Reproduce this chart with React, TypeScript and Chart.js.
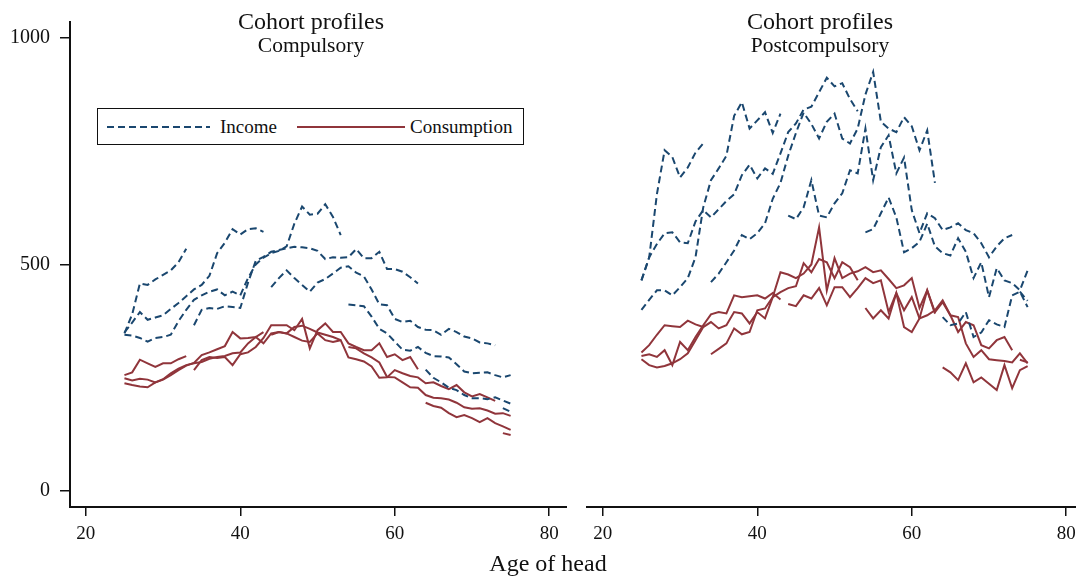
import React, { useEffect, useRef } from 'react';
import Chart from 'chart.js/auto';

// ---------- data ----------
const AGE_TICKS = [20, 40, 60, 80];
const VALUE_TICKS = [0, 500, 1000];
const COHORT_START_AGES = [25, 25, 25, 34, 44, 54, 64, 74];

// Compulsory – income (one array per cohort, starting at COHORT_START_AGES)
const COMP_INC_1 = [348, 390, 458, 455, 467, 477, 487, 505, 535];
const COMP_INC_2 = [350, 372, 395, 378, 383, 388, 402, 415, 430, 445, 455, 475, 525, 548, 578, 566, 578, 580, 572];
const COMP_INC_3 = [345, 343, 338, 330, 338, 340, 345, 375, 400, 422, 432, 440, 445, 432, 440, 432, 470, 500, 515, 525, 530, 540, 590, 628, 610, 612, 633, 605, 565];
const COMP_INC_4 = [366, 400, 404, 402, 408, 406, 404, 460, 508, 517, 528, 532, 536, 539, 538, 536, 530, 512, 516, 515, 516, 534, 514, 514, 528, 490, 490, 484, 472, 458];
const COMP_INC_5 = [450, 470, 487, 470, 455, 440, 460, 468, 480, 493, 496, 482, 474, 445, 412, 410, 380, 373, 376, 362, 356, 355, 345, 358, 351, 341, 337, 328, 326, 322];
const COMP_INC_6 = [412, 410, 408, 385, 358, 348, 330, 312, 310, 318, 305, 298, 297, 295, 280, 264, 260, 261, 262, 256, 251, 256];
const COMP_INC_7 = [268, 250, 240, 228, 223, 212, 205, 205, 203, 207, 200, 193];
const COMP_INC_8 = [183, 175];

// Compulsory – consumption
const COMP_CON_1 = [256, 262, 290, 282, 274, 282, 282, 291, 298];
const COMP_CON_2 = [249, 244, 248, 246, 240, 246, 256, 267, 277, 283, 300, 306, 313, 320, 351, 337, 338, 340, 351];
const COMP_CON_3 = [238, 234, 231, 229, 240, 247, 260, 270, 278, 282, 285, 292, 296, 298, 304, 306, 326, 340, 326, 348, 351, 348, 362, 365, 358, 350, 345, 340, 333];
const COMP_CON_4 = [267, 289, 296, 294, 296, 278, 302, 306, 318, 338, 366, 366, 366, 355, 380, 315, 355, 370, 351, 351, 326, 318, 311, 311, 326, 296, 302, 289, 296, 269];
const COMP_CON_5 = [345, 351, 348, 340, 332, 329, 348, 333, 329, 333, 295, 291, 286, 275, 250, 251, 267, 260, 254, 251, 238, 240, 232, 225, 234, 218, 209, 214, 207, 199];
const COMP_CON_6 = [318, 315, 304, 295, 284, 252, 251, 240, 229, 228, 212, 206, 205, 202, 195, 185, 182, 183, 178, 171, 172, 166];
const COMP_CON_7 = [195, 188, 184, 172, 163, 168, 161, 152, 161, 150, 143, 135];
const COMP_CON_8 = [128, 124];

// Postcompulsory – income
const POST_INC_1 = [465, 515, 655, 752, 737, 692, 714, 747, 767];
const POST_INC_2 = [400, 422, 443, 443, 432, 450, 470, 516, 626, 686, 712, 740, 828, 858, 800, 818, 836, 790, 833];
const POST_INC_3 = [465, 516, 545, 569, 571, 549, 547, 595, 620, 604, 622, 640, 655, 697, 720, 690, 712, 700, 745, 792, 811, 842, 848, 880, 912, 893, 900, 865, 838];
const POST_INC_4 = [461, 480, 505, 531, 565, 556, 569, 591, 645, 680, 740, 790, 835, 810, 778, 815, 833, 778, 767, 800, 875, 925, 815, 800, 792, 825, 805, 752, 796, 680];
const POST_INC_5 = [608, 600, 626, 686, 608, 604, 635, 657, 708, 701, 800, 686, 759, 785, 701, 736, 620, 569, 613, 602, 576, 582, 591, 576, 569, 547, 516, 540, 558, 565];
const POST_INC_6 = [571, 578, 613, 648, 604, 527, 536, 550, 590, 540, 525, 520, 558, 528, 470, 505, 428, 492, 465, 459, 443, 487];
const POST_INC_7 = [384, 366, 370, 395, 340, 350, 377, 368, 362, 432, 440, 406];
const POST_INC_8 = [440, 420];

// Postcompulsory – consumption
const POST_CON_1 = [306, 322, 345, 366, 364, 362, 376, 368, 362];
const POST_CON_2 = [298, 302, 296, 311, 278, 329, 311, 340, 366, 390, 395, 392, 432, 428, 430, 432, 425, 437, 423];
const POST_CON_3 = [291, 278, 273, 276, 282, 291, 304, 333, 362, 373, 359, 366, 395, 392, 370, 395, 381, 428, 439, 448, 452, 503, 483, 512, 505, 470, 505, 494, 465];
const POST_CON_4 = [302, 314, 326, 359, 346, 351, 399, 403, 428, 483, 478, 470, 480, 500, 582, 443, 514, 470, 480, 485, 494, 483, 487, 468, 448, 454, 470, 404, 443, 392];
const POST_CON_5 = [413, 408, 432, 425, 448, 410, 450, 450, 428, 448, 470, 459, 465, 395, 437, 399, 428, 381, 388, 399, 421, 388, 351, 373, 366, 322, 315, 333, 340, 311];
const POST_CON_6 = [404, 381, 399, 381, 437, 362, 351, 381, 443, 395, 417, 388, 384, 326, 296, 311, 291, 289, 287, 284, 304, 282];
const POST_CON_7 = [273, 262, 245, 282, 240, 251, 237, 223, 278, 227, 267, 276];
const POST_CON_8 = [290, 284];

const COMP_INCOME = [COMP_INC_1, COMP_INC_2, COMP_INC_3, COMP_INC_4, COMP_INC_5, COMP_INC_6, COMP_INC_7, COMP_INC_8];
const COMP_CONSUMPTION = [COMP_CON_1, COMP_CON_2, COMP_CON_3, COMP_CON_4, COMP_CON_5, COMP_CON_6, COMP_CON_7, COMP_CON_8];
const POST_INCOME = [POST_INC_1, POST_INC_2, POST_INC_3, POST_INC_4, POST_INC_5, POST_INC_6, POST_INC_7, POST_INC_8];
const POST_CONSUMPTION = [POST_CON_1, POST_CON_2, POST_CON_3, POST_CON_4, POST_CON_5, POST_CON_6, POST_CON_7, POST_CON_8];

// ---------- styles ----------
const BLUE = '#1a476f';
const RED = '#90353b';
const FONT = "'Liberation Serif', 'Times New Roman', serif";

function cohortPoints(start: number, values: number[]) {
  return values.map((v, i) => ({ x: start + i, y: v }));
}

function makeConfig(income: number[][], consumption: number[][], showY: boolean): any {
  const datasets: any[] = [];
  income.forEach((vals, k) => {
    datasets.push({
      label: 'Income',
      data: cohortPoints(COHORT_START_AGES[k], vals),
      borderColor: BLUE,
      borderWidth: 2,
      borderDash: [7, 4],
      pointRadius: 0,
      fill: false,
      tension: 0,
    });
  });
  consumption.forEach((vals, k) => {
    datasets.push({
      label: 'Consumption',
      data: cohortPoints(COHORT_START_AGES[k], vals),
      borderColor: RED,
      borderWidth: 2,
      pointRadius: 0,
      fill: false,
      tension: 0,
    });
  });
  return {
    type: 'line',
    data: { datasets },
    options: {
      animation: false,
      responsive: false,
      maintainAspectRatio: false,
      events: [],
      layout: { padding: { top: 22, left: 0, right: 0, bottom: 0 } },
      plugins: { legend: { display: false }, tooltip: { enabled: false }, title: { display: false } },
      scales: {
        x: {
          type: 'linear',
          min: 17.95,
          max: 82.3,
          afterBuildTicks: (s: any) => {
            s.ticks = AGE_TICKS.map((v) => ({ value: v }));
          },
          afterFit: (s: any) => {
            s.height = 70;
          },
          grid: { drawOnChartArea: false, drawTicks: true, tickLength: 9, color: '#111', lineWidth: 1.5 },
          border: { display: true, color: '#111', width: 2 },
          ticks: {
            font: { family: FONT, size: 19 },
            color: '#111',
            padding: 7,
            maxRotation: 0,
            autoSkip: false,
            callback: (v: any) => String(v),
          },
        },
        y: {
          display: showY,
          min: -35,
          max: 1035,
          afterBuildTicks: (s: any) => {
            s.ticks = VALUE_TICKS.map((v) => ({ value: v }));
          },
          afterFit: (s: any) => {
            s.width = showY ? 70 : 10;
          },
          grid: { drawOnChartArea: false, drawTicks: true, tickLength: 10, color: '#111', lineWidth: 1.5 },
          border: { display: true, color: '#111', width: 2 },
          ticks: { font: { family: FONT, size: 20 }, color: '#111', padding: 10, callback: (v: any) => String(v) },
        },
      },
    },
  };
}

function Panel(props: { income: number[][]; consumption: number[][]; showY: boolean; left: number; width: number }) {
  const ref = useRef<HTMLCanvasElement | null>(null);
  useEffect(() => {
    if (!ref.current) return;
    const chart = new Chart(ref.current, makeConfig(props.income, props.consumption, props.showY));
    return () => chart.destroy();
  }, []);
  return (
    <canvas
      ref={ref}
      width={props.width}
      height={577}
      style={{ position: 'absolute', left: props.left, top: 0, width: props.width, height: 577 }}
    />
  );
}

const textStyle = (size: number): React.CSSProperties => ({
  position: 'absolute',
  fontFamily: FONT,
  fontSize: size,
  lineHeight: 1,
  color: '#111',
  whiteSpace: 'nowrap',
  transform: 'translateX(-50%)',
});

export default function App() {
  return (
    <div style={{ position: 'fixed', left: 0, top: 0, width: 1076, height: 577, overflow: 'hidden', background: '#fff' }}>
      <Panel income={COMP_INCOME} consumption={COMP_CONSUMPTION} showY={true} left={0} width={567} />
      <Panel income={POST_INCOME} consumption={POST_CONSUMPTION} showY={false} left={577} width={507} />

      <div style={{ ...textStyle(24), left: 311, top: 9 }}>Cohort profiles</div>
      <div style={{ ...textStyle(21.5), left: 311, top: 35 }}>Compulsory</div>
      <div style={{ ...textStyle(24), left: 820, top: 9 }}>Cohort profiles</div>
      <div style={{ ...textStyle(21.5), left: 820, top: 35 }}>Postcompulsory</div>
      <div style={{ ...textStyle(24), left: 548, top: 551 }}>Age of head</div>

      <div
        style={{
          position: 'absolute',
          left: 97,
          top: 108,
          width: 427,
          height: 37,
          boxSizing: 'border-box',
          border: '1.5px solid #111',
          background: '#fff',
        }}
      >
        <svg width={424} height={34} style={{ position: 'absolute', left: 0, top: 0 }}>
          <line x1={9} y1={18} x2={112} y2={18} stroke={BLUE} strokeWidth={2} strokeDasharray="7 4" />
          <line x1={199} y1={18} x2={307} y2={18} stroke={RED} strokeWidth={2} />
        </svg>
        <div style={{ position: 'absolute', left: 122, top: 8, fontFamily: FONT, fontSize: 19, lineHeight: 1, color: '#111' }}>Income</div>
        <div style={{ position: 'absolute', left: 312, top: 8, fontFamily: FONT, fontSize: 19, lineHeight: 1, color: '#111' }}>Consumption</div>
      </div>
    </div>
  );
}
